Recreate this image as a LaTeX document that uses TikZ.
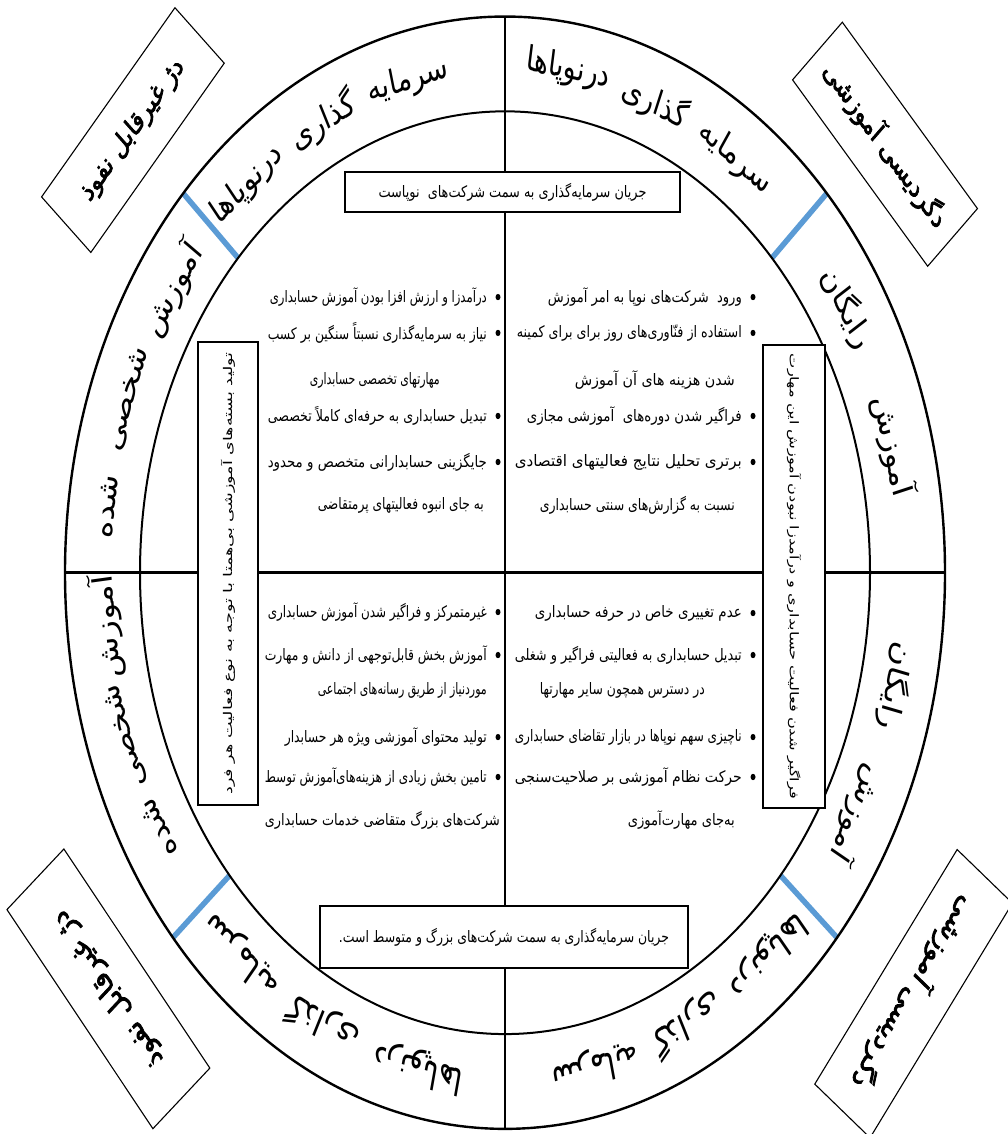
\documentclass[tikz,border=0pt]{standalone}
\usepackage{fontspec}
\usepackage{graphicx}
\newfontfamily\faring[Script=Arabic]{DejaVu Sans}
\newfontfamily\fabody[Script=Arabic]{DejaVu Sans}
\newfontfamily\fabold[Script=Arabic,FakeBold=3]{DejaVu Sans}
\TeXXeTstate=1
\newcommand\RL[1]{\beginR#1\endR}
\newcommand\fitline[2]{\resizebox{#1pt}{\height}{\RL{#2}}}
\definecolor{lineblue}{RGB}{91,155,213}
\begin{document}
\begin{tikzpicture}[x=1pt,y=-1pt,
  ringline/.style={line width=2.4pt},
  innerline/.style={line width=2pt},
  blueline/.style={line width=5.5pt, draw=lineblue},
  cornerbox/.style={draw, line width=1.1pt, inner sep=0pt, font=\fabold\fontsize{22}{26}\selectfont},
  bigcorner/.style={cornerbox, font=\fabold\fontsize{24}{28}\selectfont},
  midbox/.style={draw, line width=1.6pt, fill=white, inner sep=0pt, font=\fabody\fontsize{12.5}{14}\selectfont},
  sidebox/.style={draw, line width=1.8pt, fill=white, inner sep=0pt, font=\fabody\fontsize{12}{14}\selectfont},
  ringword/.style={inner sep=0pt, font=\faring\fontsize{27}{30}\selectfont},
  bigword/.style={inner sep=0pt, font=\faring\fontsize{29}{32}\selectfont},
  item/.style={anchor=east, inner sep=0pt, font=\fabody\fontsize{12.5}{14}\selectfont},
  dot/.style={fill=black}
]
\useasboundingbox (0,0) rectangle (1008,1134);
\begin{scope}[yscale=1.264, transform shape]
\coordinate (c) at (505,453);
\coordinate (otop) at (505,13);
\coordinate (obot) at (505,893);
\coordinate (oleft) at (65,453);
\coordinate (oright) at (945,453);
% blue separators
\foreach \a [count=\i] in {43,137,221,319} {
  \coordinate (bi\i) at ({505+365*cos(\a)},{453-365*sin(\a)});
  \coordinate (bo\i) at ({505+440*cos(\a)},{453-440*sin(\a)});
  \draw[blueline] (bi\i) -- (bo\i);
}
\draw[ringline] (c) circle [radius=440];
\draw[innerline] (c) circle [radius=365];
\draw[line width=3.2pt] (oleft) -- (oright);
% central boxes
\node[midbox, minimum width=335, minimum height=31.6] (topbox) at (512.5,151.9) {\fitline{268}{جریان سرمایه‌گذاری به سمت شرکت‌های\ \ نوپاست}};
\node[midbox, minimum width=368, minimum height=49] (botbox) at (504,741.3) {\fitline{330}{جریان سرمایه‌گذاری به سمت شرکت‌های بزرگ و متوسط است\kern0pt.}};
\draw[line width=1.3pt] (otop) -- (topbox.north -| otop);
\draw[line width=1.3pt] (topbox.south -| otop) -- (botbox.north -| otop);
\draw[line width=1.3pt] (botbox.south -| otop) -- (obot);
% side boxes
\node[sidebox, rotate=90, minimum width=366.3, minimum height=60] (lbox) at (228,453.7) {\fitline{350}{تولید بسته‌های آموزشی بی‌همتا با توجه به نوع فعالیت هر فرد}};
\node[sidebox, rotate=-90, minimum width=366, minimum height=62] (rbox) at (794,456) {\fitline{352}{فراگیر شدن فعالیت حسابداری و درآمدزا نبودن آموزش این مهارت}};
% corner boxes
\node[cornerbox, rotate=48.3, minimum width=200.5, minimum height=66] (ctl) at (132.9,102.9) {\RL{دژ غیرقابل نفوذ}};
\node[cornerbox, rotate=-47.5, minimum width=200, minimum height=67.5] (ctr) at (885,114.1) {\RL{دگردیسی آموزشی}};
\node[bigcorner, rotate=130.1, minimum width=226.6, minimum height=74.4] (cbl) at (108.4,782.3) {\RL{دژ غیرقابل نفوذ}};
\node[bigcorner, rotate=-127.5, minimum width=233.9, minimum height=69.7] (cbr) at (913.6,786.1) {\RL{دگردیسی آموزشی}};
% ring words, upper half
\node[ringword, rotate=14] (w1) at ({505+401*cos(104)},{453-401*sin(104)}) {\RL{سرمایه}};
\node[ringword, rotate=27] (w2) at ({505+401*cos(117)},{453-401*sin(117)}) {\RL{گذاری}};
\node[ringword, rotate=40] (w3) at ({505+401*cos(130)},{453-401*sin(130)}) {\RL{درنوپاها}};
\node[ringword, rotate=-35] (w4) at ({505+401*cos(55)},{453-401*sin(55)}) {\RL{سرمایه}};
\node[ringword, rotate=-22] (w5) at ({505+401*cos(68)},{453-401*sin(68)}) {\RL{گذاری}};
\node[ringword, rotate=-9] (w6) at ({505+403*cos(81)},{453-403*sin(81)}) {\RL{درنوپاها}};
\node[ringword, rotate=56] (w7) at ({505+401*cos(146)},{453-401*sin(146)}) {\RL{آموزش}};
\node[ringword, rotate=70] (w8) at ({505+401*cos(160)},{453-401*sin(160)}) {\RL{شخصی}};
\node[ringword, rotate=82.5] (w9) at ({505+401*cos(172.5)},{453-401*sin(172.5)}) {\RL{شده}};
\node[ringword, rotate=-75.5] (w10) at ({505+401*cos(14.5)},{453-401*sin(14.5)}) {\RL{آموزش}};
\node[ringword, rotate=-58.5] (w11) at ({505+401*cos(31.5)},{453-401*sin(31.5)}) {\RL{رایگان}};
% ring words, lower half
\node[ringword, rotate=96.2] (w12) at ({505+401*cos(186.2)},{453-401*sin(186.2)}) {\RL{آموزش}};
\node[ringword, rotate=108.8] (w13) at ({505+401*cos(198.8)},{453-401*sin(198.8)}) {\RL{شخصی}};
\node[ringword, rotate=120.3] (w14) at ({505+401*cos(210.3)},{453-401*sin(210.3)}) {\RL{شده}};
\node[ringword, rotate=241.5] (w15) at ({505+401*cos(331.5)},{453-401*sin(331.5)}) {\RL{آموزش}};
\node[ringword, rotate=257] (w16) at ({505+401*cos(347)},{453-401*sin(347)}) {\RL{رایگان}};
\node[bigword, rotate=139] (w17) at ({505+401*cos(229)},{453-401*sin(229)}) {\RL{سرمایه}};
\node[bigword, rotate=153] (w18) at ({505+401*cos(243)},{453-401*sin(243)}) {\RL{گذاری}};
\node[bigword, rotate=167.5] (w19) at ({505+401*cos(257.5)},{453-401*sin(257.5)}) {\RL{درنوپاها}};
\node[bigword, rotate=193] (w20) at ({505+401*cos(283)},{453-401*sin(283)}) {\RL{سرمایه}};
\node[bigword, rotate=207] (w21) at ({505+401*cos(297)},{453-401*sin(297)}) {\RL{گذاری}};
\node[bigword, rotate=221] (w22) at ({505+401*cos(311)},{453-401*sin(311)}) {\RL{درنوپاها}};
% top-left list
\fill[dot] (498,235) circle [radius=2.5];
\node[item] (tl1) at (487,235) {\fitline{217}{درآمدزا و ارزش افزا بودن آموزش حسابداری}};
\fill[dot] (498,263.4) circle [radius=2.5];
\node[item] (tl2) at (487,263.4) {\fitline{219}{نیاز به سرمایه‌گذاری نسبتاً سنگین بر کسب}};
\node[item] (tl3) at (440,300.6) {\fitline{130}{مهارتهای تخصصی حسابداری}};
\fill[dot] (498,329.1) circle [radius=2.5];
\node[item] (tl4) at (487,329.1) {\fitline{219}{تبدیل حسابداری به حرفه‌ای کاملاً تخصصی}};
\fill[dot] (498,365.5) circle [radius=2.5];
\node[item] (tl5) at (487,365.5) {\fitline{219}{جایگزینی حسابدارانی متخصص و محدود}};
\node[item] (tl6) at (484,399.5) {\fitline{166}{به جای انبوه فعالیتهای پرمتقاضی}};
% top-right list
\fill[dot] (753,235) circle [radius=2.5];
\node[item] (tr1) at (742,235) {\fitline{194}{ورود\ \ شرکت‌های نوپا به امر آموزش}};
\fill[dot] (753,263.4) circle [radius=2.5];
\node[item] (tr2) at (742,263.4) {\fitline{225}{استفاده از فنّاوری‌های روز برای برای کمینه}};
\node[item] (tr3) at (735,300.6) {\fitline{160}{شدن هزینه های آن آموزش}};
\fill[dot] (753,329.1) circle [radius=2.5];
\node[item] (tr4) at (742,329.1) {\fitline{215}{فراگیر شدن دوره‌های\ \ آموزشی مجازی}};
\fill[dot] (753,365.5) circle [radius=2.5];
\node[item] (tr5) at (742,365.5) {\fitline{227}{برتری تحلیل نتایج فعالیتهای اقتصادی}};
\node[item] (tr6) at (735,399.5) {\fitline{195}{نسبت به گزارش‌های سنتی حسابداری}};
% bottom-left list
\fill[dot] (498,484.2) circle [radius=2.5];
\node[item] (bl1) at (487,484.2) {\fitline{219}{غیرمتمرکز و فراگیر شدن آموزش حسابداری}};
\fill[dot] (498,518.2) circle [radius=2.5];
\node[item] (bl2) at (487,518.2) {\fitline{222}{آموزش بخش قابل‌توجهی از دانش و مهارت}};
\node[item] (bl3) at (487,545.9) {\fitline{169}{موردنیاز از طریق رسانه‌های اجتماعی}};
\fill[dot] (498,583.1) circle [radius=2.5];
\node[item] (bl4) at (487,583.1) {\fitline{202}{تولید محتوای آموزشی ویژه هر حسابدار}};
\fill[dot] (498,614.7) circle [radius=2.5];
\node[item] (bl5) at (487,614.7) {\fitline{222}{تامین بخش زیادی از هزینه‌های‌آموزش توسط}};
\node[item] (bl6) at (500,648.7) {\fitline{235}{شرکت‌های بزرگ متقاضی خدمات حسابداری}};
% bottom-right list
\fill[dot] (753,485) circle [radius=2.5];
\node[item] (br1) at (742,485) {\fitline{207}{عدم تغییری خاص در حرفه حسابداری}};
\fill[dot] (753,518.2) circle [radius=2.5];
\node[item] (br2) at (742,518.2) {\fitline{227}{تبدیل حسابداری به فعالیتی فراگیر و شغلی}};
\node[item] (br3) at (705,545.9) {\fitline{165}{در دسترس همچون سایر مهارتها}};
\fill[dot] (753,583.1) circle [radius=2.5];
\node[item] (br4) at (742,583.1) {\fitline{227}{ناچیزی سهم نوپاها در بازار تقاضای حسابداری}};
\fill[dot] (753,614.7) circle [radius=2.5];
\node[item] (br5) at (742,614.7) {\fitline{227}{حرکت نظام آموزشی بر صلاحیت‌سنجی}};
\node[item] (br6) at (735,648.7) {\fitline{107}{به‌جای مهارت‌آموزی}};
\end{scope}
\end{tikzpicture}
\end{document}
